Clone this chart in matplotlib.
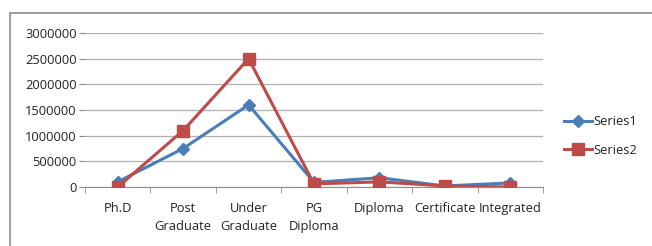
import numpy as np
import matplotlib.pyplot as plt
from matplotlib.patches import Rectangle

categories = ["Ph.D", "Post\nGraduate", "Under\nGraduate", "PG\nDiploma",
              "Diploma", "Certificate", "Integrated"]
series1 = [100000, 750000, 1600000, 90000, 180000, 20000, 80000]
series2 = [0, 1100000, 2500000, 60000, 100000, 20000, 0]
yticks = [0, 500000, 1000000, 1500000, 2000000, 2500000, 3000000]

plt.rcParams['font.family'] = ['Open Sans', 'DejaVu Sans']

fig = plt.figure(figsize=(6.52, 2.46), dpi=100)
fig.patches.append(Rectangle((10 / 652, -0.1), 1.0, 1 - 13 / 246 + 0.1,
                             transform=fig.transFigure, fill=False,
                             edgecolor='#8c8c8c', linewidth=1.2))

ax = fig.add_axes([85 / 652, 1 - 187 / 246, (543 - 85) / 652, (187 - 33) / 246])
x = np.arange(len(categories))

ax.plot(x, series1, color='#4A7EBB', linewidth=2.2, marker='D', markersize=6,
        label='Series1', zorder=3)
ax.plot(x, series2, color='#BE4B48', linewidth=2.2, marker='s', markersize=8,
        label='Series2', zorder=4)

ax.set_xlim(-0.5, len(categories) - 0.5)
ax.set_ylim(0, 3000000)
ax.set_yticks(yticks)
ax.set_yticklabels([str(v) for v in yticks], fontsize=9.3, color='#222222')
ax.set_xticks(x)
ax.set_xticklabels(categories, fontsize=9.3, linespacing=1.45, color='#222222')
ax.set_xticks(np.arange(len(categories) + 1) - 0.5, minor=True)
ax.tick_params(axis='x', which='major', length=0, pad=11)
ax.tick_params(axis='x', which='minor', length=4, color='#8c8c8c')
ax.tick_params(axis='y', length=4, color='#8c8c8c', pad=2)
ax.grid(axis='y', color='#b0b0b0', linewidth=0.9)
ax.set_axisbelow(True)
for s in ['top', 'right', 'left']:
    ax.spines[s].set_visible(False)
ax.spines['bottom'].set_color('#8c8c8c')

ax.legend(loc='center left', bbox_to_anchor=(1.02, 0.33), frameon=False,
          fontsize=9.3, handlelength=2.2, handletextpad=0.1, labelspacing=1.2,
          labelcolor='#222222')

fig.savefig('out.png', dpi=100)
